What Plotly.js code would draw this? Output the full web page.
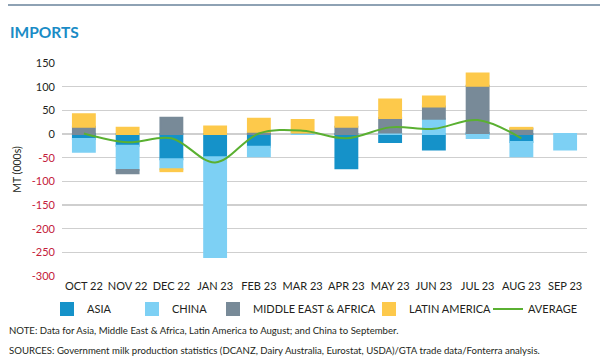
<!DOCTYPE html>
<html>
<head>
<meta charset="utf-8">
<script src="https://cdn.plot.ly/plotly-3.0.1.min.js"></script>
<style>html,body{margin:0;padding:0;background:#fff;}#chart{width:600px;height:361px;}</style>
</head>
<body>
<div id="chart"></div>
<script>
const months = ["OCT 22","NOV 22","DEC 22","JAN 23","FEB 23","MAR 23","APR 23","MAY 23","JUN 23","JUL 23","AUG 23","SEP 23"];
const asia     = [-10.5, -25, -53.5, -49, -27, 0, -72.5, -17, -32.5, 2, -17, null];
const china    = [-27, -51, -21, -211, -20, 3, 0, 3, 32, -8.5, -30, -32.5];
const meAfrica = [15.5, -7, 34.5, 0, 5, 0, 15.5, 31, 26, 100, 11, null];
const latAm    = [26, 13, -4, 16, 27, 26.5, 20, 39, 21, 26, 2, null];
const averageMonths = ["OCT 22","NOV 22","DEC 22","JAN 23","FEB 23","MAR 23","APR 23","MAY 23","JUN 23","JUL 23","AUG 23"];
const average  = [1, -17.5, -9, -60, 1, 7, -9, 14, 11, 29.5, -9];
const yTicks   = [150, 100, 50, 0, -50, -100, -150, -200, -250, -300];

const font = "Lato, 'Open Sans', sans-serif";
const colAsia = "#1592c9", colChina = "#7dd0f4", colME = "#788a98", colLA = "#fdc94b", colAvg = "#5ab031";

function barTrace(name, y, color, lw) {
  return {type: "bar", name: name, x: months, y: y,
    marker: {color: color, line: {color: color, width: 2}},
    legendwidth: lw, hoverinfo: "skip"};
}
const traces = [
  barTrace("ASIA", asia, colAsia, 40),
  barTrace("CHINA", china, colChina, 36),
  barTrace("MIDDLE EAST &amp; AFRICA", meAfrica, colME, 111),
  barTrace("LATIN AMERICA", latAm, colLA, 74),
  {type: "scatter", mode: "lines", name: "AVERAGE", x: averageMonths, y: average,
   line: {color: colAvg, width: 2, shape: "spline", smoothing: 1}, hoverinfo: "skip"}
];

const tickText = yTicks.map(v => v < 0 ? '<span style="color:#c4213a">' + v + '</span>' : String(v));

const pl = 62, pr = 587, pt = 63, pb = 276;
const pw = pr - pl, ph = pb - pt;
const px = v => (v - pl) / pw;
const py = v => (pb - v) / ph;

const layout = {
  width: 600, height: 361,
  margin: {l: pl, r: 600 - pr, t: pt, b: 361 - pb, pad: 0},
  paper_bgcolor: "#fff", plot_bgcolor: "#fff",
  font: {family: font, size: 11, color: "#231f20"},
  barmode: "relative",
  bargap: 0.5,
  title: {text: "<b>IMPORTS</b>", font: {family: font, size: 15.5, color: "#1a8cc6"},
          x: 10/600, xref: "container", xanchor: "left",
          y: 1 - 33/361, yref: "container", yanchor: "middle"},
  xaxis: {type: "category", categoryorder: "array", categoryarray: months,
          showgrid: false, zeroline: false, showline: false, ticks: "",
          tickfont: {family: font, size: 11, color: "#231f20"}, ticklabelstandoff: 2},
  yaxis: {range: [-300, 150], tickvals: yTicks, ticktext: tickText,
          showgrid: true, gridcolor: "#cfcfcf", gridwidth: 1.5,
          zeroline: true, zerolinecolor: "#cfcfcf", zerolinewidth: 1.5,
          showline: false, ticks: "", ticklabelstandoff: 6,
          tickfont: {family: font, size: 11, color: "#231f20"},
          title: {text: "MT (000s)", font: {family: font, size: 10.5, color: "#231f20"}, standoff: 8}},
  showlegend: true,
  legend: {orientation: "h", x: px(47), xanchor: "left", y: py(309), yanchor: "middle",
           font: {family: font, size: 11, color: "#231f20"}, traceorder: "normal",
           bgcolor: "rgba(0,0,0,0)", itemclick: false},
  shapes: [
    {type: "line", xref: "paper", yref: "paper", x0: px(8), x1: px(600), y0: py(5), y1: py(5),
     line: {color: "#8ea2b4", width: 2}}
  ],
  annotations: [
    {text: "NOTE: Data for Asia, Middle East &amp; Africa, Latin America to August; and China to September.",
     xref: "paper", yref: "paper", x: px(7), y: py(330), xanchor: "left", yanchor: "middle", showarrow: false,
     font: {family: font, size: 9.6, color: "#231f20"}},
    {text: "SOURCES: Government milk production statistics (DCANZ, Dairy Australia, Eurostat, USDA)/GTA trade data/Fonterra analysis.",
     xref: "paper", yref: "paper", x: px(7), y: py(350), xanchor: "left", yanchor: "middle", showarrow: false,
     font: {family: font, size: 9.6, color: "#231f20"}}
  ]
};

Plotly.newPlot("chart", traces, layout, {staticPlot: true, displayModeBar: false});
</script>
</body>
</html>
